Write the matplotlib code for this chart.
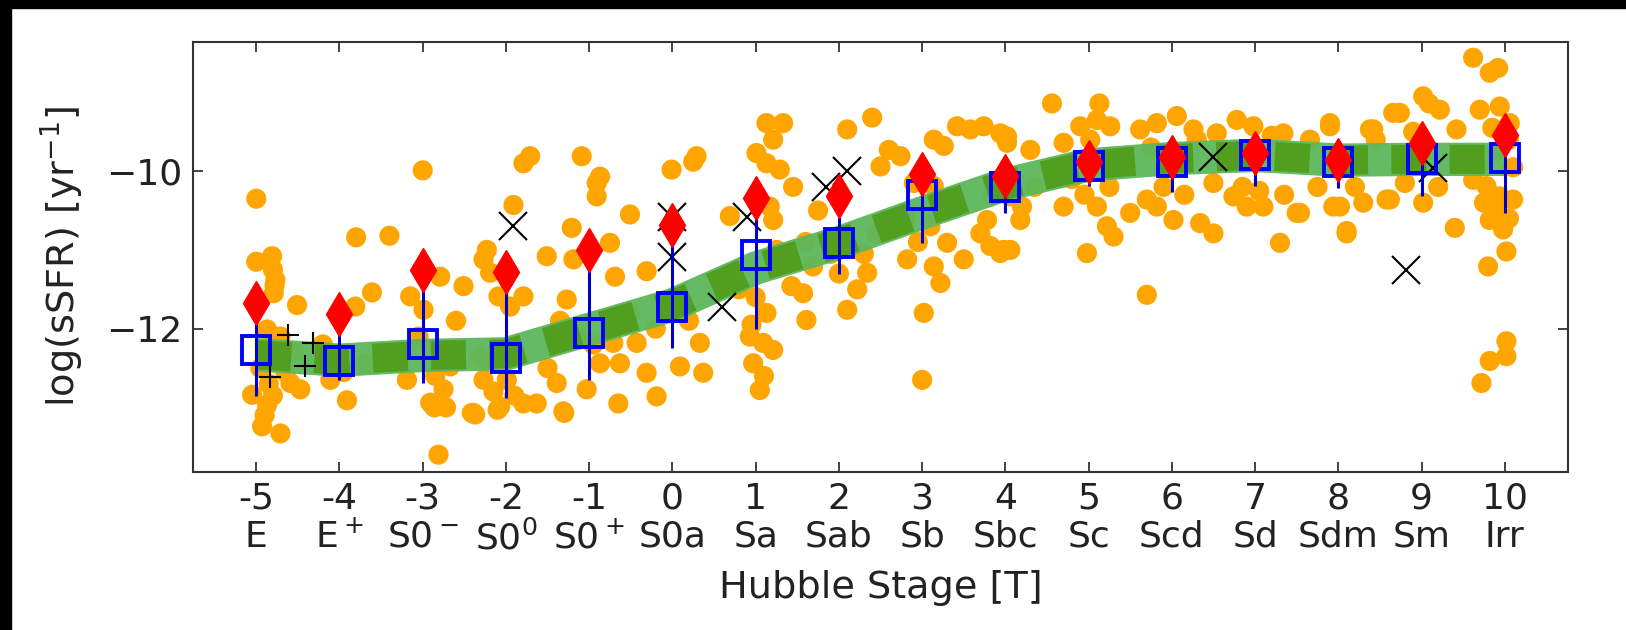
import matplotlib
matplotlib.use("Agg")
import matplotlib.pyplot as plt
from matplotlib.patches import Rectangle

# Hubble stage ticks and names
stages = [-5, -4, -3, -2, -1, 0, 1, 2, 3, 4, 5, 6, 7, 8, 9, 10]
stage_names = ["E", "E$^+$", "S0$^-$", "S0$^0$", "S0$^+$", "S0a", "Sa", "Sab",
               "Sb", "Sbc", "Sc", "Scd", "Sd", "Sdm", "Sm", "Irr"]

# individual galaxies (orange)
gal_T = [
    -5.00, -5.00, -4.81, -4.77, -4.79, -4.51, -4.87, -4.71, -5.05, -4.87, -4.93, -4.71, -4.59, -4.47, -4.75,
    -4.80, -4.78, -4.95, -4.85, -4.65, -4.90, -4.80, -4.55,
    -3.80, -3.40, -3.61, -3.81, -3.91, -4.11, -4.20, -3.95, -3.70,
    -3.00, -2.81, -3.15, -2.79, -2.51, -2.99, -2.91, -2.75, -3.19, -2.67, -2.41, -2.67, -2.86, -2.72, -3.05, -2.85, -2.60,
    -1.79, -1.71, -2.23, -2.19, -2.27, -2.09, -1.95, -1.79, -2.07, -1.79, -2.39, -1.99, -2.27, -2.31, -1.91, -2.37, -2.10,
    -2.15, -1.90, -2.20,
    -1.09, -0.91, -0.91, -1.21, -1.51, -1.19, -1.27, -1.63, -1.31, -1.39, -1.03, -0.87, -1.15, -0.87, -1.30, -1.50, -0.95, -1.35,
    -0.51, -0.01, 0.29, 0.25, -0.75, -0.69, -0.31, -0.71, -0.63, -0.43, -0.31, 0.09, 0.37, 0.33, -0.19, -0.65, -0.20, 0.20, -0.50, 0.00,
    1.13, 1.33, 1.21, 1.01, 1.13, 1.29, 0.69, 1.17, 1.21, 0.93, 1.09, 0.97, 1.05, 1.13, 1.21, 0.80, 1.00, 1.10, 0.95, 1.25,
    2.10, 2.40, 2.60, 2.50, 1.43, 1.57, 1.61, 2.10, 2.22, 2.34, 1.69, 1.60, 1.45, 1.75, 2.30, 2.00, 1.90, 2.45,
    2.74, 3.14, 3.26, 3.42, 3.58, 3.74, 2.90, 3.14, 2.82, 3.14, 3.30, 3.22, 3.02, 3.00, 3.50, 2.80, 3.10, 3.35, 2.95,
    3.94, 4.02, 3.70, 3.82, 3.98, 3.78, 4.02, 4.30, 4.06, 4.18, 4.06, 3.94, 4.70, 4.56, 4.20, 4.35, 3.85,
    4.70, 4.90, 5.10, 5.26, 5.02, 5.13, 4.98, 5.10, 5.22, 5.30, 5.50, 4.95, 5.25, 4.80,
    5.62, 5.82, 6.06, 6.26, 5.70, 5.82, 6.02, 6.34, 6.50, 5.70, 5.90, 6.15, 6.30, 5.75,
    6.54, 6.78, 6.98, 6.50, 6.74, 6.90, 7.10, 7.30, 7.50, 7.20, 6.85, 7.05, 7.35,
    7.34, 7.66, 7.90, 7.90, 8.38, 7.94, 8.10, 8.30, 8.58, 8.02, 8.10, 7.54, 7.75, 8.20, 8.45,
    8.42, 8.66, 8.74, 9.02, 9.22, 9.09, 8.62, 9.02, 9.40, 8.90, 9.20, 8.80,
    9.62, 9.82, 9.92, 9.42, 9.70, 9.94, 10.06, 9.62, 9.78, 9.94, 10.10, 9.82, 9.98, 10.02, 9.80, 10.02, 10.02, 9.82, 9.72,
    9.85, 10.05, 9.90, 10.10, 9.70, 10.05, 9.90, 9.75,
]
gal_ssfr = [
    -10.35, -11.15, -11.08, -11.38, -11.55, -11.70, -12.01, -12.10, -12.84, -12.97, -13.24, -13.33, -12.69, -12.77, -12.44,
    -11.25, -11.45, -12.50, -12.70, -12.55, -13.10, -12.85, -12.30,
    -10.84, -10.82, -11.54, -11.72, -12.91, -12.65, -12.20, -12.55, -12.45,
    -9.99, -13.60, -11.59, -11.34, -11.46, -11.76, -12.94, -12.77, -12.65, -12.48, -13.07, -12.27, -13.00, -13.00, -12.10, -12.60, -11.90,
    -9.90, -9.81, -11.00, -11.29, -11.12, -11.59, -11.72, -11.59, -12.99, -12.95, -13.07, -12.65, -12.65, -12.35, -10.43, -13.09, -13.03,
    -12.80, -12.85, -12.45,
    -9.81, -10.15, -10.32, -10.72, -11.08, -11.12, -11.63, -12.95, -13.05, -12.69, -12.77, -12.44, -12.10, -10.07, -13.07, -12.50, -12.20, -11.90,
    -10.55, -9.98, -9.81, -9.88, -10.91, -11.34, -11.27, -12.18, -12.44, -12.18, -12.56, -12.48, -12.56, -12.18, -12.86, -12.95, -12.00, -11.90, -11.80, -10.70,
    -9.39, -9.39, -9.60, -9.77, -9.90, -9.98, -10.57, -10.45, -10.62, -12.10, -12.18, -12.44, -12.78, -11.80, -12.27, -11.50, -11.60, -12.60, -11.95, -11.00,
    -9.47, -9.32, -9.73, -9.94, -11.46, -11.55, -11.89, -11.76, -11.50, -11.29, -11.21, -10.90, -10.20, -10.50, -11.05, -11.30, -11.05, -10.80,
    -9.81, -9.60, -9.68, -9.43, -9.47, -9.43, -10.15, -10.19, -11.12, -11.21, -10.91, -11.42, -11.80, -12.65, -11.12, -10.60, -10.70, -10.40, -10.90,
    -9.52, -9.64, -10.79, -10.95, -11.00, -10.62, -9.56, -9.73, -10.32, -10.62, -11.00, -11.04, -10.45, -9.14, -10.45, -10.20, -10.30,
    -9.64, -9.43, -9.35, -9.43, -9.60, -9.14, -11.04, -10.45, -10.70, -10.83, -10.53, -10.30, -10.20, -10.10,
    -9.47, -9.39, -9.30, -9.47, -10.36, -10.45, -10.62, -10.66, -10.79, -11.57, -10.20, -10.30, -9.60, -9.70,
    -9.52, -9.35, -9.43, -10.15, -10.32, -10.45, -10.45, -10.91, -10.53, -9.55, -10.20, -10.25, -10.30,
    -9.52, -9.60, -9.43, -9.39, -9.47, -10.45, -10.79, -10.40, -10.36, -10.45, -10.76, -10.53, -10.20, -10.20, -9.60,
    -9.47, -9.26, -9.26, -9.05, -9.22, -9.14, -10.36, -10.40, -10.72, -9.50, -10.20, -10.15,
    -8.56, -8.75, -8.69, -9.47, -9.22, -9.18, -9.39, -10.11, -10.19, -10.32, -10.36, -10.62, -10.74, -11.02, -11.21, -12.16, -12.35, -12.41, -12.69,
    -9.45, -9.60, -9.75, -9.95, -9.90, -10.60, -10.45, -10.40,
]

# trend band
band_y = [-12.33, -12.40, -12.34, -12.32, -12.01, -11.70, -11.23, -10.91,
          -10.53, -10.17, -9.92, -9.84, -9.80, -9.86, -9.85, -9.85]

# binned medians with error range (blue squares)
med_y = [-12.27, -12.41, -12.20, -12.37, -12.05, -11.72, -11.06, -10.91,
         -10.30, -10.20, -9.94, -9.89, -9.79, -9.88, -9.85, -9.83]
med_lo = [-12.86, -12.65, -12.69, -12.88, -12.65, -12.24, -12.01, -11.31,
          -10.91, -10.53, -10.19, -10.27, -10.19, -10.21, -10.32, -10.53]
med_hi = [-11.90, -11.95, -11.40, -11.50, -11.20, -10.95, -10.60, -10.58,
          -9.82, -9.95, -9.75, -9.70, -9.65, -9.70, -9.65, -9.60]

# red diamonds
mean_y = [-11.68, -11.81, -11.26, -11.28, -11.00, -10.68, -10.34, -10.32,
          -10.04, -10.06, -9.88, -9.82, -9.77, -9.86, -9.64, -9.54]

# other samples
cross_T = [-1.91, 0.00, 0.00, 0.60, 0.90, 1.85, 2.10, 6.50, 8.81, 9.14]
cross_y = [-10.70, -10.58, -11.09, -11.72, -10.58, -10.20, -10.00, -9.82, -11.25, -9.96]
plus_T = [-4.62, -4.32, -4.41, -4.83]
plus_y = [-12.08, -12.18, -12.48, -12.62]

fig = plt.figure(figsize=(16.26, 6.3), dpi=100)
# black strips at top / left edge of the original screenshot
fig.patches.append(Rectangle((0, 1 - 8 / 630), 1, 8 / 630, transform=fig.transFigure,
                             color="black", zorder=0))
fig.patches.append(Rectangle((0, 0), 11 / 1626, 1, transform=fig.transFigure,
                             color="black", zorder=0))

ax = fig.add_axes([193 / 1626, 1 - 472 / 630, (1568 - 193) / 1626, (472 - 42) / 630])

ax.scatter(gal_T, gal_ssfr, s=210, color="orange", edgecolors="none", zorder=1)

ax.plot(stages, band_y, color="#5cb85c", lw=24, solid_capstyle="butt", alpha=0.95, zorder=2)
ax.plot(stages, band_y, color="#4f9a14", lw=21, dashes=(1.2, 0.8), alpha=0.85, zorder=2)

ax.plot(plus_T, plus_y, "+", color="black", ms=16, mew=1.5, ls="none", zorder=3)
ax.plot(cross_T, cross_y, "x", color="black", ms=20, mew=1.5, ls="none", zorder=3)

err_lo = [m - lo for m, lo in zip(med_y, med_lo)]
err_hi = [hi - m for m, hi in zip(med_y, med_hi)]
ax.errorbar(stages, med_y, yerr=[err_lo, err_hi], fmt="none", ecolor="mediumblue",
            elinewidth=2.2, capsize=0, zorder=4)
ax.plot(stages, med_y, "s", ms=20, mfc="none", mec="blue", mew=2.8, ls="none", zorder=4)

ax.plot(stages, mean_y, "d", color="red", ms=22, ls="none", zorder=5)

ax.set_xlim(-5.76, 10.76)
ax.set_ylim(-13.82, -8.36)
ax.set_yticks([-12, -10])
ax.set_xticks(stages)
ax.set_xticklabels([f"{t}\n{n}" for t, n in zip(stages, stage_names)], linespacing=1.15)

ax.tick_params(direction="in", top=True, right=True, length=7, width=1.2,
               labelsize=26, colors="#222222")
ax.tick_params(axis="x", pad=7)
ax.tick_params(axis="y", pad=8)
for sp in ax.spines.values():
    sp.set_linewidth(1.5)
    sp.set_color("#333333")

ax.set_xlabel("Hubble Stage [T]", fontsize=27.5, color="#222222", labelpad=10)
ax.set_ylabel("log(sSFR) [yr$^{-1}$]", fontsize=27.5, color="#222222", labelpad=14)

fig.savefig("out.png", dpi=100)
